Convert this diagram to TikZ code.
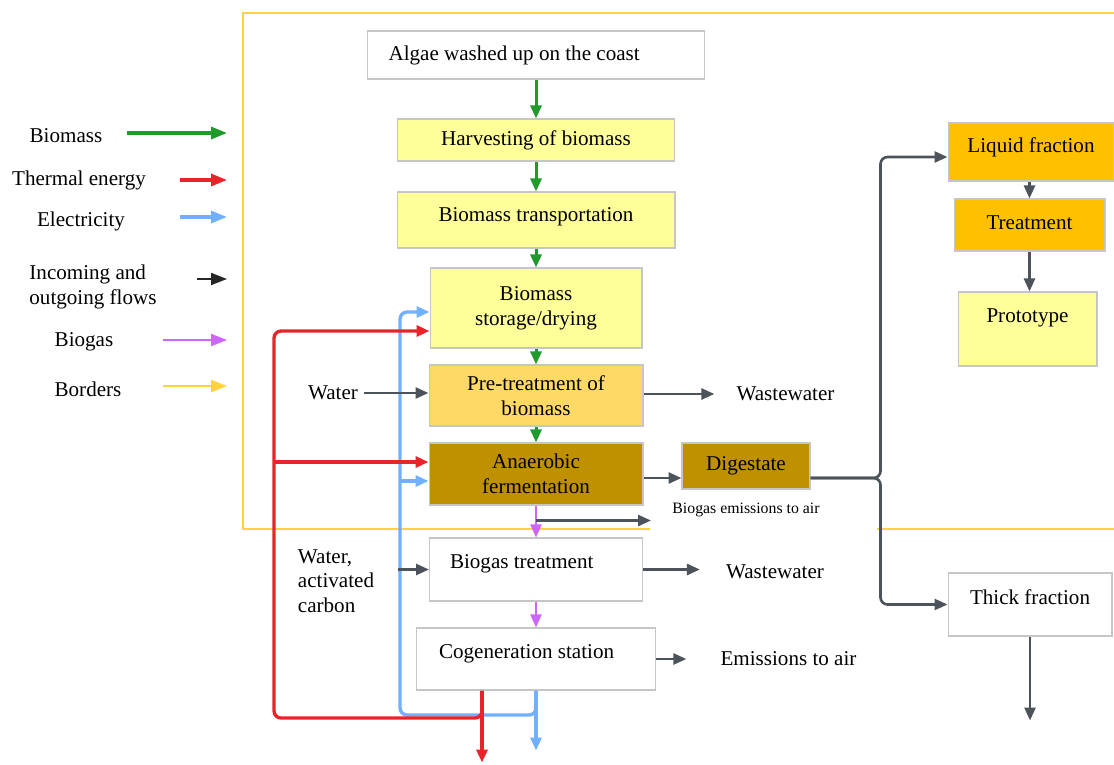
\documentclass[tikz,border=0pt]{standalone}
\usepackage{fontspec}
\setmainfont{Liberation Serif}
\usetikzlibrary{arrows.meta,calc}
\definecolor{paleyel}{HTML}{FFFF99}
\definecolor{lightgold}{HTML}{FFD966}
\definecolor{darkgold}{HTML}{BF9000}
\definecolor{ambergold}{HTML}{FFC000}
\definecolor{biogreen}{HTML}{1F9A2B}
\definecolor{heatred}{HTML}{E8232A}
\definecolor{elecblue}{HTML}{70B0FF}
\definecolor{gaspurple}{HTML}{CC66FF}
\definecolor{flowgray}{HTML}{4D535B}
\definecolor{borderyel}{HTML}{FFD23F}
\tikzset{
  stepbox/.style = {draw=gray!45, line width=0.6pt, inner sep=3pt, align=center},
  leftbox/.style = {stepbox, align=flush left, inner xsep=#1},
  raised/.style  = {text height=8pt, text depth=#1},
  tipar/.style   = {-{Triangle[length=2.6mm,width=2.2mm]}},
  biomass/.style = {tipar, biogreen, line width=1.7pt},
  heat/.style    = {tipar, heatred, line width=1.9pt, rounded corners=4pt},
  power/.style   = {tipar, elecblue, line width=1.9pt, rounded corners=4pt},
  gas/.style     = {tipar, gaspurple, line width=1.1pt},
  flow/.style    = {tipar, flowgray, line width=1.5pt, rounded corners=4pt},
  border/.style  = {borderyel, line width=1.1pt},
  legar/.style   = {-{Triangle[length=3.2mm,width=2.4mm]}}
}

\begin{document}
\begin{tikzpicture}[x=0.02cm, y=-0.02cm, font=\fontsize{12}{14}\selectfont]
  \useasboundingbox (0,0) rectangle (1114,764);
  \clip (0,0) rectangle (1114,764);
  \draw[border] (1120,13) -| (243,529) -- (650,529);
  \draw[border] (877,529) -- (1120,529);

  \node (lbio) at (66,136)  {Biomass};
  \node (lhea) at (79,180)  {Thermal energy};
  \node (lele) at (81,221)  {Electricity};
  \node[align=flush left] (linc) at (93,287) {Incoming and\\outgoing flows};
  \node (lgas) at (84,342)  {Biogas};
  \node (lbor) at (88,389)  {Borders};
  \foreach \nm/\xa/\yy/\col/\lw in {bio/127/133/biogreen/1.8pt, hea/180/180/heatred/1.8pt,
      ele/180/217/elecblue/1.8pt, inc/197/279/black!85/1pt, gas/163/340/gaspurple/1.1pt,
      bor/163/386/borderyel/1.1pt}{
    \coordinate (\nm a) at (\xa,\yy);
    \coordinate (\nm b) at (227,\yy);
    \draw[legar, \col, line width=\lw] (\nm a) -- (\nm b);
  }

  \node[leftbox=0.42cm, text width=5.9cm, minimum height=0.96cm] (alg) at (536,55) {Algae washed up on the coast};
  \node[stepbox, fill=paleyel, minimum width=5.54cm, minimum height=0.84cm] (harv) at (536,140) {Harvesting of biomass};
  \node[stepbox, fill=paleyel, raised=6.4pt, minimum width=5.56cm, minimum height=1.12cm] (trans) at (536,220) {Biomass transportation};
  \node[stepbox, fill=paleyel, minimum width=4.24cm, minimum height=1.6cm] (stor) at (536,308) {Biomass\\storage/drying};
  \node[stepbox, fill=lightgold, minimum width=4.28cm, minimum height=1.22cm] (pretr) at (536,395.5) {Pre-treatment of\\biomass};
  \node[stepbox, fill=darkgold, minimum width=4.28cm, minimum height=1.24cm] (anaer) at (536,474) {Anaerobic\\fermentation};
  \node[stepbox, fill=darkgold, minimum width=2.56cm, minimum height=0.92cm] (dig) at (746,466) {Digestate};
  \node[leftbox=0.41cm, raised=9.2pt, text width=3.44cm, minimum height=1.26cm] (bgtr) at (536,569.5) {Biogas treatment};
  \node[leftbox=0.45cm, raised=8.6pt, text width=3.88cm, minimum height=1.24cm] (cogen) at (536,659) {Cogeneration station};
  \node[stepbox, fill=ambergold, raised=7.4pt, minimum width=3.32cm, minimum height=1.16cm] (liq) at (1031,152) {Liquid fraction};
  \node[stepbox, fill=ambergold, raised=3pt, minimum width=3.02cm, minimum height=1.04cm] (treat) at (1029.5,225) {Treatment};
  \node[stepbox, fill=paleyel, raised=15.4pt, minimum width=2.78cm, minimum height=1.48cm] (proto) at (1027.5,329) {Prototype};
  \node[stepbox, raised=8pt, minimum width=3.28cm, minimum height=1.26cm] (thick) at (1030,604.5) {Thick fraction};

  \node (water) at (333,393)   {Water};
  \node (ww1)   at (785.5,394) {Wastewater};
  \node[font=\fontsize{9}{11}\selectfont] (bgem) at (746,510) {Biogas emissions to air};
  \node[align=flush left] (wac) at (336,581) {Water,\\activated\\carbon};
  \node (ww2)   at (775,572)   {Wastewater};
  \node (emis)  at (788.5,659) {Emissions to air};

  \coordinate (pbus) at (400,715);
  \coordinate (hbus) at (274,718);
  \coordinate (hsrc) at ($(cogen.south west)!0.275!(cogen.south east)$);
  \draw[power] (cogen.south) -- ++(0,60);
  \draw[power] (cogen.south) |- (pbus) |- ([yshift=-0.08cm]stor.west);
  \draw[power] ([yshift=-0.14cm]anaer.west -| pbus) -- ([yshift=-0.14cm]anaer.west);
  \draw[heat] (hsrc) -- ++(0,72);
  \draw[heat] (hsrc) |- (hbus) |- ([yshift=-0.46cm]stor.west);
  \draw[heat] ([yshift=0.24cm]anaer.west -| hbus) -- ([yshift=0.24cm]anaer.west);

  \draw[biomass] (alg) -- (harv);
  \draw[biomass] (harv) -- (trans);
  \draw[biomass] (trans) -- (stor);
  \draw[biomass] (stor) -- (pretr);
  \draw[biomass] (pretr) -- (anaer);
  \draw[gas] (anaer) -- (bgtr);
  \draw[gas] (bgtr) -- (cogen);

  \draw[flow] ([yshift=-0.3cm]anaer.south) -- ++(115,0);
  \draw[flow] (water) -- (pretr.west |- water);
  \draw[flow, shorten >=0.32cm] (pretr.east |- ww1) -- (ww1);
  \draw[flow] ([yshift=-0.24cm]dig.west -| anaer.east) -- ([yshift=-0.24cm]dig.west);
  \draw[flow] ([yshift=-0.24cm]dig.east) -- ++(70,0) |- ([yshift=-0.1cm]liq.west);
  \draw[flow] ([yshift=-0.24cm]dig.east) -- ++(70,0) |- (thick.west);
  \draw[flow] (treat.north |- liq.south) -- (treat.north);
  \draw[flow] (treat.south) -- (treat.south |- proto.north);
  \draw[flow] (thick.south) -- ++(0,84);
  \draw[flow, shorten <=0.36cm] (wac.east |- bgtr.west) -- (bgtr.west);
  \draw[flow, shorten >=0.4cm] (bgtr.east) -- (bgtr.east -| ww2.west);
  \draw[flow, shorten >=0.56cm] (cogen.east) -- (cogen.east -| emis.west);
\end{tikzpicture}
\end{document}
